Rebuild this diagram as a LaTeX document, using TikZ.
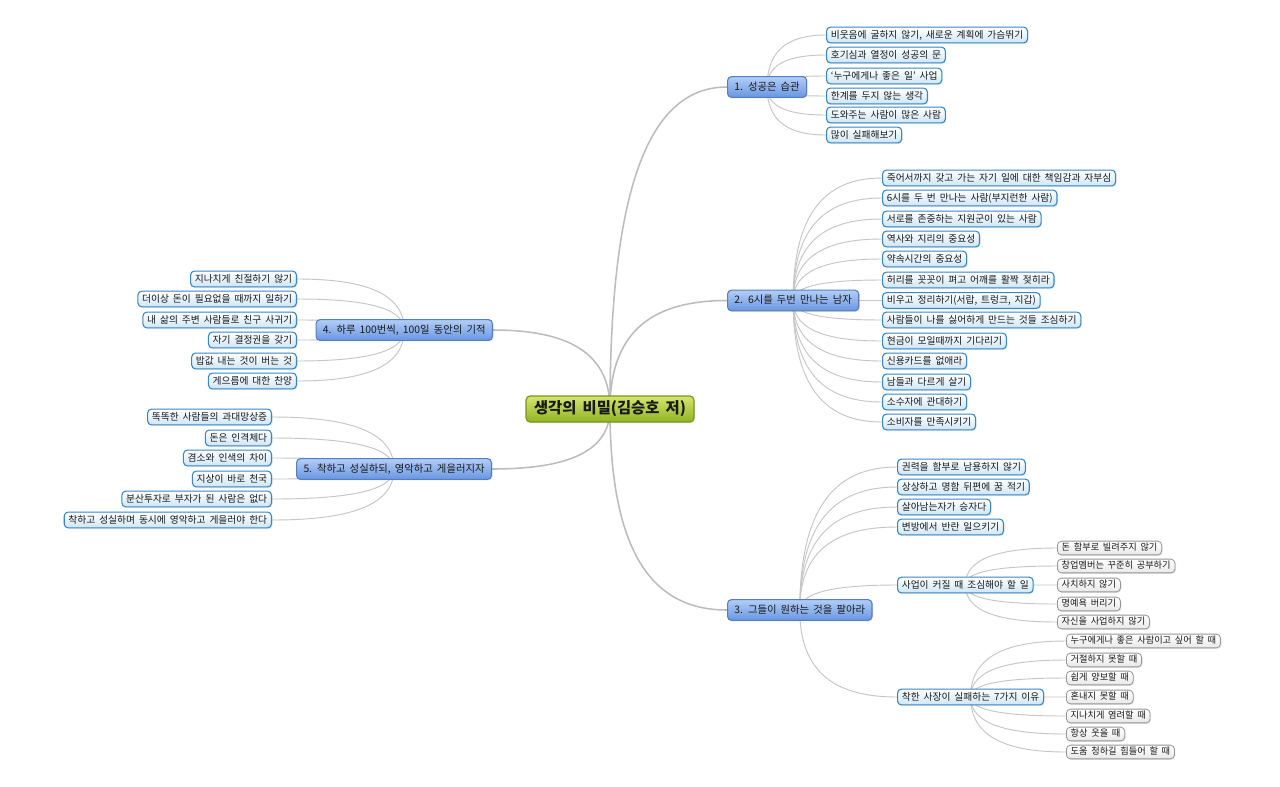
\documentclass[tikz,border=0pt]{standalone}
\usepackage{fontspec}
\setmainfont{Noto Sans CJK KR}[WordSpace=1.8]
\usetikzlibrary{calc,shadows}
\pgfdeclarelayer{lines}
\pgfsetlayers{lines,main}
\definecolor{txt}{RGB}{25,25,25}
\definecolor{leafb}{RGB}{55,135,200}
\definecolor{leaff}{RGB}{205,230,248}
\definecolor{brb}{RGB}{85,125,195}
\definecolor{brt}{RGB}{178,206,248}
\definecolor{brbot}{RGB}{105,150,225}
\definecolor{cb}{RGB}{120,150,30}
\definecolor{ct}{RGB}{214,228,110}
\definecolor{cbot}{RGB}{145,180,35}
\definecolor{subb}{RGB}{150,150,150}
\definecolor{subf}{RGB}{232,232,232}
\definecolor{lc}{RGB}{198,198,198}
\definecolor{mlc}{RGB}{188,188,188}
\tikzset{
  base/.style={rounded corners=3pt, text=txt, inner xsep=3.2pt,
    drop shadow={opacity=0.18, shadow xshift=0.8pt, shadow yshift=-0.8pt}},
  leaf/.style={base, draw=leafb, line width=0.8pt, top color=white, bottom color=leaff,
    font=\fontsize{7.3}{8.5}\selectfont, text height=6.3pt, text depth=1.8pt, inner ysep=1.9pt},
  subleaf/.style={base, draw=subb, line width=0.6pt, top color=white, bottom color=subf,
    font=\fontsize{6.9}{8}\selectfont, text height=5.9pt, text depth=1.6pt, inner ysep=1.4pt},
  branch/.style={base, draw=brb, line width=0.8pt, top color=brt, bottom color=brbot,
    font=\fontsize{7.75}{9}\selectfont, text height=6.6pt, text depth=2pt, inner ysep=3.5pt, inner xsep=5.2pt},
  central/.style={base, draw=cb, line width=0.9pt, top color=ct, bottom color=cbot,
    font=\fontsize{11.5}{13}\selectfont\bfseries, text height=9pt, text depth=2.5pt, inner ysep=4pt, inner xsep=6pt},
  conn/.style={draw=lc, line width=0.7pt},
  mconn/.style={draw=mlc, line width=1.15pt}
}
\newcommand{\linkR}[3][conn]{%
  \path (#2.center|-#3.west) coordinate (kk);
  \draw[#1] (#2.center) .. controls ($(#2.center)!0.75!(kk)$) and ($(#3.west)!0.6!(kk)$) .. (#3.west);}
\newcommand{\linkL}[3][conn]{%
  \path (#2.center|-#3.east) coordinate (kk);
  \draw[#1] (#2.center) .. controls ($(#2.center)!0.75!(kk)$) and ($(#3.east)!0.6!(kk)$) .. (#3.east);}
\begin{document}
\begin{tikzpicture}[x=0.75pt,y=-0.75pt]
\useasboundingbox (0,0) rectangle (1280,786);
\begin{pgfonlayer}{lines}
\fill[white] (0,0) rectangle (1280,786);
\end{pgfonlayer}
% central
\node[central] (c) at (610,409) {생각의 비밀(김승호 저)};
% branches
\node[branch,anchor=west] (b1) at (727,87) {1. 성공은 습관};
\node[branch,anchor=west] (b2) at (727,300.5) {2. 6시를 두번 만나는 남자};
\node[branch,anchor=west] (b3) at (727,610) {3. 그들이 원하는 것을 팔아라};
\node[branch,anchor=east] (b4) at (493,330) {4. 하루 100번씩, 100일 동안의 기적};
\node[branch,anchor=east] (b5) at (492,469) {5. 착하고 성실하되, 영악하고 게을러지자};
% branch 1
\node[leaf,anchor=west] (l11) at (826,35) {비웃음에 굴하지 않기, 새로운 계획에 가슴뛰기};
\node[leaf,anchor=west] (l12) at (826,55) {호기심과 열정이 성공의 문};
\node[leaf,anchor=west] (l13) at (826,76) {‘누구에게나 좋은 일’ 사업};
\node[leaf,anchor=west] (l14) at (826,96) {한계를 두지 않는 생각};
\node[leaf,anchor=west] (l15) at (826,115) {도와주는 사람이 많은 사람};
\node[leaf,anchor=west] (l16) at (826,135) {많이 실패해보기};
% branch 2
\node[leaf,anchor=west] (l21) at (882,178) {죽어서까지 갖고 가는 자기 일에 대한 책임감과 자부심};
\node[leaf,anchor=west] (l22) at (882,198) {6시를 두 번 만나는 사람(부지런한 사람)};
\node[leaf,anchor=west] (l23) at (882,219) {서로를 존중하는 지원군이 있는 사람};
\node[leaf,anchor=west] (l24) at (882,239) {역사와 지리의 중요성};
\node[leaf,anchor=west] (l25) at (882,259) {약속시간의 중요성};
\node[leaf,anchor=west] (l26) at (882,280) {허리를 꼿꼿이 펴고 어깨를 활짝 젖히라};
\node[leaf,anchor=west] (l27) at (882,300.5) {비우고 정리하기(서랍, 트렁크, 지갑)};
\node[leaf,anchor=west] (l28) at (882,320) {사람들이 나를 싫어하게 만드는 것들 조심하기};
\node[leaf,anchor=west] (l29) at (882,341) {현금이 모일때까지 기다리기};
\node[leaf,anchor=west] (l2a) at (882,361) {신용카드를 없애라};
\node[leaf,anchor=west] (l2b) at (882,382) {남들과 다르게 살기};
\node[leaf,anchor=west] (l2c) at (882,402) {소수자에 관대하기};
\node[leaf,anchor=west] (l2d) at (882,422) {소비자를 만족시키기};
% branch 3
\node[leaf,anchor=west] (l31) at (897,467) {권력을 함부로 남용하지 않기};
\node[leaf,anchor=west] (l32) at (897,487) {상상하고 명함 뒤편에 꿈 적기};
\node[leaf,anchor=west] (l33) at (897,507) {살아남는자가 승자다};
\node[leaf,anchor=west] (l34) at (897,527) {변방에서 반란 일으키기};
\node[leaf,anchor=west] (l35) at (897,585) {사업이 커질 때 조심해야 할 일};
\node[leaf,anchor=west] (l36) at (897,697) {착한 사장이 실패하는 7가지 이유};
\node[subleaf,anchor=west] (s1) at (1057,548) {돈 함부로 빌려주지 않기};
\node[subleaf,anchor=west] (s2) at (1057,566) {창업멤버는 꾸준히 공부하기};
\node[subleaf,anchor=west] (s3) at (1057,585) {사치하지 않기};
\node[subleaf,anchor=west] (s4) at (1057,604) {명예욕 버리기};
\node[subleaf,anchor=west] (s5) at (1057,622) {자신을 사업하지 않기};
\node[subleaf,anchor=west] (t1) at (1066,641) {누구에게나 좋은 사람이고 싶어 할 때};
\node[subleaf,anchor=west] (t2) at (1066,660) {거절하지 못할 때};
\node[subleaf,anchor=west] (t3) at (1066,678) {쉽게 양보할 때};
\node[subleaf,anchor=west] (t4) at (1066,697) {혼내지 못할 때};
\node[subleaf,anchor=west] (t5) at (1066,716) {지나치게 염려할 때};
\node[subleaf,anchor=west] (t6) at (1066,734) {항상 웃을 때};
\node[subleaf,anchor=west] (t7) at (1066,752) {도움 청하길 힘들어 할 때};
% branch 4
\node[leaf,anchor=east] (l41) at (297,279) {지나치게 친절하기 않기};
\node[leaf,anchor=east] (l42) at (297,299) {더이상 돈이 필요없을 때까지 일하기};
\node[leaf,anchor=east] (l43) at (297,320) {내 삶의 주변 사람들로 친구 사귀기};
\node[leaf,anchor=east] (l44) at (297,340) {자기 결정권을 갖기};
\node[leaf,anchor=east] (l45) at (297,361) {밥값 내는 것이 버는 것};
\node[leaf,anchor=east] (l46) at (297,381) {게으름에 대한 찬양};
% branch 5
\node[leaf,anchor=east] (l51) at (272,417) {똑똑한 사람들의 과대망상증};
\node[leaf,anchor=east] (l52) at (272,438) {돈은 인격체다};
\node[leaf,anchor=east] (l53) at (272,458) {겸소와 인색의 차이};
\node[leaf,anchor=east] (l54) at (272,479) {지상이 바로 천국};
\node[leaf,anchor=east] (l55) at (272,499) {분산투자로 부자가 된 사람은 없다};
\node[leaf,anchor=east] (l56) at (272,520) {착하고 성실하며 동시에 영악하고 게을러야 한다};
% connectors
\begin{pgfonlayer}{lines}
\linkR[mconn]{c}{b1}
\linkR[mconn]{c}{b2}
\linkR[mconn]{c}{b3}
\linkL[mconn]{c}{b4}
\linkL[mconn]{c}{b5}
\foreach \n in {l11,l12,l13,l14,l15,l16}{\linkR{b1}{\n}}
\foreach \n in {l21,l22,l23,l24,l25,l26,l27,l28,l29,l2a,l2b,l2c,l2d}{\linkR{b2}{\n}}
\foreach \n in {l31,l32,l33,l34,l35,l36}{\linkR{b3}{\n}}
\foreach \n in {s1,s2,s3,s4,s5}{\linkR{l35}{\n}}
\foreach \n in {t1,t2,t3,t4,t5,t6,t7}{\linkR{l36}{\n}}
\foreach \n in {l41,l42,l43,l44,l45,l46}{\linkL{b4}{\n}}
\foreach \n in {l51,l52,l53,l54,l55,l56}{\linkL{b5}{\n}}
\end{pgfonlayer}
\end{tikzpicture}
\end{document}
